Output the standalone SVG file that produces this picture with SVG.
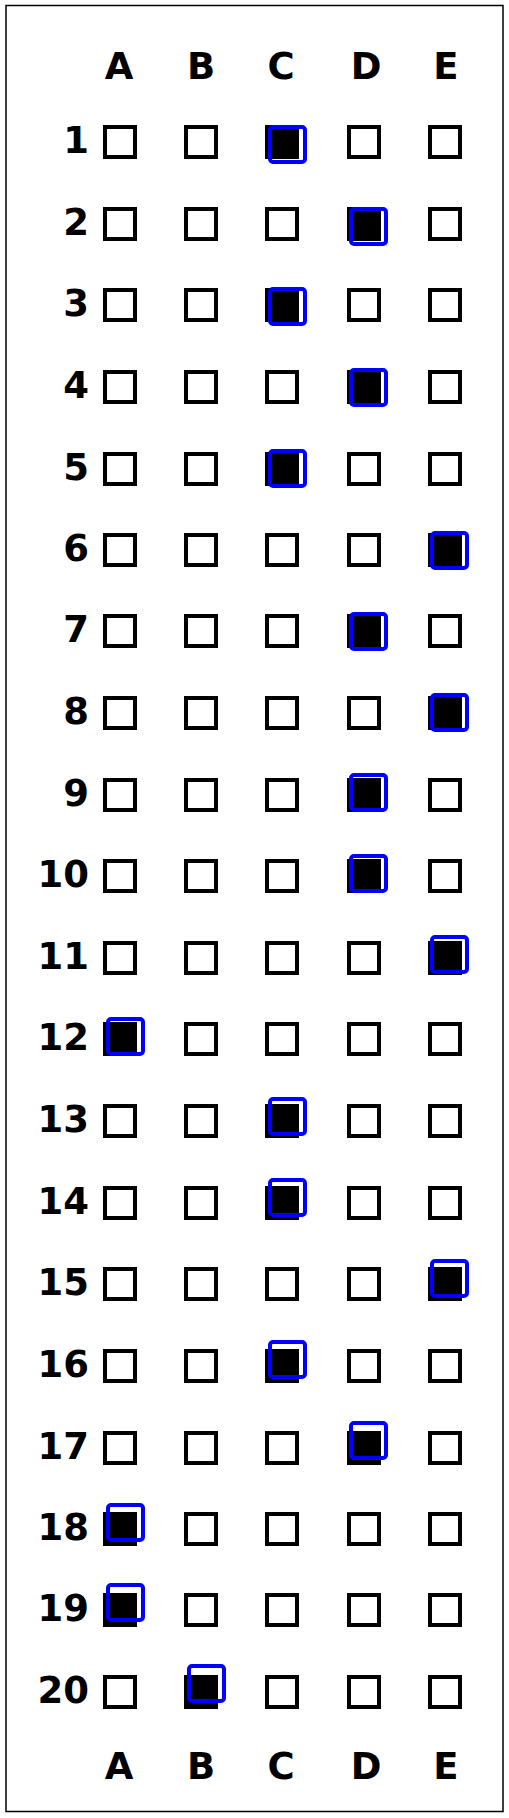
<svg xmlns="http://www.w3.org/2000/svg" width="509" height="1818" viewBox="0 0 509 1818">
<style>
.t{font-family:"DejaVu Sans","Verdana",sans-serif;font-weight:bold;font-size:37px;fill:#000}
.h{text-anchor:middle}
.n{text-anchor:end}
.b{fill:none;stroke:#000;stroke-width:4}
.f{fill:#000}
.s{fill:none;stroke:#0000ff;stroke-width:4}
</style>
<defs>
<rect id="bx" x="2" y="2" width="30" height="30" class="b"/>
<rect id="fx" x="2" y="2" width="30" height="30" class="b f" style="fill:#000"/>
<rect id="sel" x="2" y="2" width="35" height="35" rx="3" class="s"/>
</defs>
<rect x="6" y="5.5" width="497" height="1806" fill="#fff" stroke="#000" stroke-width="1.5"/>
<g id="header">
<text class="t h" x="119" y="79">A</text>
<text class="t h" x="201" y="79">B</text>
<text class="t h" x="281" y="79">C</text>
<text class="t h" x="366" y="79">D</text>
<text class="t h" x="446" y="79">E</text>
</g>
<g id="footer">
<text class="t h" x="119" y="1779">A</text>
<text class="t h" x="201" y="1779">B</text>
<text class="t h" x="281" y="1779">C</text>
<text class="t h" x="366" y="1779">D</text>
<text class="t h" x="446" y="1779">E</text>
</g>
<g id="q1"><text class="t n" x="89" y="153">1</text><use href="#bx" x="103" y="125"/><use href="#bx" x="184" y="125"/><use href="#fx" x="265" y="125"/><use href="#bx" x="347" y="125"/><use href="#bx" x="428" y="125"/><use href="#sel" x="268" y="125"/></g>
<g id="q2"><text class="t n" x="89" y="235">2</text><use href="#bx" x="103" y="207"/><use href="#bx" x="184" y="207"/><use href="#bx" x="265" y="207"/><use href="#fx" x="347" y="207"/><use href="#bx" x="428" y="207"/><use href="#sel" x="349" y="207"/></g>
<g id="q3"><text class="t n" x="89" y="316">3</text><use href="#bx" x="103" y="288"/><use href="#bx" x="184" y="288"/><use href="#fx" x="265" y="288"/><use href="#bx" x="347" y="288"/><use href="#bx" x="428" y="288"/><use href="#sel" x="268" y="287"/></g>
<g id="q4"><text class="t n" x="89" y="398">4</text><use href="#bx" x="103" y="370"/><use href="#bx" x="184" y="370"/><use href="#bx" x="265" y="370"/><use href="#fx" x="347" y="370"/><use href="#bx" x="428" y="370"/><use href="#sel" x="349" y="368"/></g>
<g id="q5"><text class="t n" x="89" y="480">5</text><use href="#bx" x="103" y="452"/><use href="#bx" x="184" y="452"/><use href="#fx" x="265" y="452"/><use href="#bx" x="347" y="452"/><use href="#bx" x="428" y="452"/><use href="#sel" x="268" y="449"/></g>
<g id="q6"><text class="t n" x="89" y="561">6</text><use href="#bx" x="103" y="533"/><use href="#bx" x="184" y="533"/><use href="#bx" x="265" y="533"/><use href="#bx" x="347" y="533"/><use href="#fx" x="428" y="533"/><use href="#sel" x="430" y="531"/></g>
<g id="q7"><text class="t n" x="89" y="642">7</text><use href="#bx" x="103" y="614"/><use href="#bx" x="184" y="614"/><use href="#bx" x="265" y="614"/><use href="#fx" x="347" y="614"/><use href="#bx" x="428" y="614"/><use href="#sel" x="349" y="612"/></g>
<g id="q8"><text class="t n" x="89" y="724">8</text><use href="#bx" x="103" y="696"/><use href="#bx" x="184" y="696"/><use href="#bx" x="265" y="696"/><use href="#bx" x="347" y="696"/><use href="#fx" x="428" y="696"/><use href="#sel" x="430" y="693"/></g>
<g id="q9"><text class="t n" x="89" y="806">9</text><use href="#bx" x="103" y="778"/><use href="#bx" x="184" y="778"/><use href="#bx" x="265" y="778"/><use href="#fx" x="347" y="778"/><use href="#bx" x="428" y="778"/><use href="#sel" x="349" y="773"/></g>
<g id="q10"><text class="t n" x="89" y="887">10</text><use href="#bx" x="103" y="859"/><use href="#bx" x="184" y="859"/><use href="#bx" x="265" y="859"/><use href="#fx" x="347" y="859"/><use href="#bx" x="428" y="859"/><use href="#sel" x="349" y="854"/></g>
<g id="q11"><text class="t n" x="89" y="969">11</text><use href="#bx" x="103" y="941"/><use href="#bx" x="184" y="941"/><use href="#bx" x="265" y="941"/><use href="#bx" x="347" y="941"/><use href="#fx" x="428" y="941"/><use href="#sel" x="430" y="935"/></g>
<g id="q12"><text class="t n" x="89" y="1050">12</text><use href="#fx" x="103" y="1022"/><use href="#bx" x="184" y="1022"/><use href="#bx" x="265" y="1022"/><use href="#bx" x="347" y="1022"/><use href="#bx" x="428" y="1022"/><use href="#sel" x="106" y="1017"/></g>
<g id="q13"><text class="t n" x="89" y="1132">13</text><use href="#bx" x="103" y="1104"/><use href="#bx" x="184" y="1104"/><use href="#fx" x="265" y="1104"/><use href="#bx" x="347" y="1104"/><use href="#bx" x="428" y="1104"/><use href="#sel" x="268" y="1097"/></g>
<g id="q14"><text class="t n" x="89" y="1214">14</text><use href="#bx" x="103" y="1186"/><use href="#bx" x="184" y="1186"/><use href="#fx" x="265" y="1186"/><use href="#bx" x="347" y="1186"/><use href="#bx" x="428" y="1186"/><use href="#sel" x="268" y="1178"/></g>
<g id="q15"><text class="t n" x="89" y="1295">15</text><use href="#bx" x="103" y="1267"/><use href="#bx" x="184" y="1267"/><use href="#bx" x="265" y="1267"/><use href="#bx" x="347" y="1267"/><use href="#fx" x="428" y="1267"/><use href="#sel" x="430" y="1259"/></g>
<g id="q16"><text class="t n" x="89" y="1377">16</text><use href="#bx" x="103" y="1349"/><use href="#bx" x="184" y="1349"/><use href="#fx" x="265" y="1349"/><use href="#bx" x="347" y="1349"/><use href="#bx" x="428" y="1349"/><use href="#sel" x="268" y="1340"/></g>
<g id="q17"><text class="t n" x="89" y="1459">17</text><use href="#bx" x="103" y="1431"/><use href="#bx" x="184" y="1431"/><use href="#bx" x="265" y="1431"/><use href="#fx" x="347" y="1431"/><use href="#bx" x="428" y="1431"/><use href="#sel" x="349" y="1421"/></g>
<g id="q18"><text class="t n" x="89" y="1540">18</text><use href="#fx" x="103" y="1512"/><use href="#bx" x="184" y="1512"/><use href="#bx" x="265" y="1512"/><use href="#bx" x="347" y="1512"/><use href="#bx" x="428" y="1512"/><use href="#sel" x="106" y="1503"/></g>
<g id="q19"><text class="t n" x="89" y="1621">19</text><use href="#fx" x="103" y="1593"/><use href="#bx" x="184" y="1593"/><use href="#bx" x="265" y="1593"/><use href="#bx" x="347" y="1593"/><use href="#bx" x="428" y="1593"/><use href="#sel" x="106" y="1583"/></g>
<g id="q20"><text class="t n" x="89" y="1703">20</text><use href="#bx" x="103" y="1675"/><use href="#fx" x="184" y="1675"/><use href="#bx" x="265" y="1675"/><use href="#bx" x="347" y="1675"/><use href="#bx" x="428" y="1675"/><use href="#sel" x="187" y="1664"/></g>
</svg>
